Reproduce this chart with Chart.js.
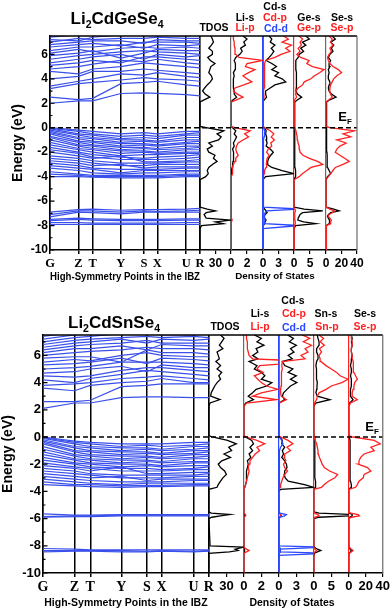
<!DOCTYPE html>
<html>
<head>
<meta charset="utf-8">
<script src="https://cdn.jsdelivr.net/npm/chart.js@4.4.0/dist/chart.umd.min.js"></script>
<style>
  body { margin: 0; background: #fff; width: 392px; height: 610px; position: relative; overflow: hidden;
         font-family: "Liberation Sans", Arial, sans-serif; }
  canvas { position: absolute; left: 0; }
  .t { position: absolute; white-space: nowrap; font-weight: bold; line-height: 1; transform: translate(-50%, -50%); z-index: 2; }
  .sb { font-size: .62em; position: relative; top: .35em; }
  .k { color: #000; } .r { color: #ff2020; } .b { color: #2a48ff; }
  .ttl { font-size: 17px; }
  .lg { font-size: 10.5px; }
</style>
</head>
<body>
<canvas id="cGe" width="392" height="290" style="top:0"></canvas>
<canvas id="cSn" width="392" height="310" style="top:300px"></canvas>

<div class="t ttl" style="left:117px;top:18px">Li<span class="sb">2</span>CdGeSe<span class="sb">4</span></div>
<div class="t lg k" style="left:214px;top:27px">TDOS</div>
<div class="t lg k" style="left:245px;top:17px">Li-s</div>
<div class="t lg r" style="left:245px;top:27px">Li-p</div>
<div class="t lg k" style="left:275px;top:6px">Cd-s</div>
<div class="t lg r" style="left:275px;top:17px">Cd-p</div>
<div class="t lg b" style="left:276px;top:28px">Cd-d</div>
<div class="t lg k" style="left:309px;top:17px">Ge-s</div>
<div class="t lg r" style="left:309px;top:27px">Ge-p</div>
<div class="t lg k" style="left:342px;top:17px">Se-s</div>
<div class="t lg r" style="left:342px;top:27px">Se-p</div>
<div class="t" style="left:345px;top:117px;font-size:13px">E<span class="sb">F</span></div>
<div class="t" style="left:275px;top:276px;font-size:9.8px">Density of States</div>

<div class="t ttl" style="left:114px;top:322px">Li<span class="sb">2</span>CdSnSe<span class="sb">4</span></div>
<div class="t lg k" style="left:225px;top:326px">TDOS</div>
<div class="t lg k" style="left:260px;top:313px">Li-s</div>
<div class="t lg r" style="left:260px;top:326px">Li-p</div>
<div class="t lg k" style="left:293px;top:300px">Cd-s</div>
<div class="t lg r" style="left:294px;top:313px">Cd-p</div>
<div class="t lg b" style="left:294px;top:327px">Cd-d</div>
<div class="t lg k" style="left:326px;top:313px">Sn-s</div>
<div class="t lg r" style="left:327px;top:326px">Sn-p</div>
<div class="t lg k" style="left:365px;top:313px">Se-s</div>
<div class="t lg r" style="left:365px;top:326px">Se-p</div>
<div class="t" style="left:372px;top:427px;font-size:13px">E<span class="sb">F</span></div>
<div class="t" style="left:292px;top:602px;font-size:10.5px">Density of States</div>

<script>
// k-path of the band plots
const kPath = [0, 0.19, 0.285, 0.472, 0.627, 0.715, 0.908, 1];
const kLabels = ['G', 'Z', 'T', 'Y', 'S', 'X', 'U', 'R'];
const energyTicks = [-10, -9, -8, -7, -6, -5, -4, -3, -2, -1, 0, 1, 2, 3, 4, 5, 6, 7];

// ---- Li2CdGeSe4 bands (values at G Z T Y S X U R, eV)
const condGe = [
  [2.0, 2.2, 2.2, 2.8, 2.85, 2.8, 2.7, 2.6],
  [2.5, 2.3, 2.4, 3.6, 3.7, 3.8, 3.5, 3.4],
  [3.2, 3.6, 3.7, 3.9, 4.1, 4.0, 3.9, 3.8],
  [3.4, 3.8, 4.0, 4.4, 4.3, 4.5, 4.2, 4.1],
  [4.0, 4.2, 4.6, 4.6, 4.8, 4.7, 4.5, 4.4],
  [4.6, 4.4, 4.8, 5.0, 5.3, 5.2, 5.0, 4.9],
  [4.8, 5.0, 5.2, 5.5, 5.4, 5.6, 5.3, 5.2],
  [5.1, 5.3, 5.5, 5.3, 5.8, 5.8, 5.6, 5.5],
  [5.3, 5.6, 5.8, 6.0, 5.6, 6.0, 5.8, 5.9],
  [5.6, 5.9, 6.0, 6.2, 6.3, 6.2, 6.1, 6.0],
  [5.9, 6.1, 6.3, 5.7, 6.1, 6.4, 6.3, 6.3],
  [6.1, 6.4, 6.2, 6.5, 6.6, 6.5, 6.6, 6.5],
  [6.3, 6.6, 6.6, 6.8, 6.5, 6.8, 6.7, 6.8],
  [6.6, 6.8, 6.9, 6.7, 7.0, 7.0, 7.0, 6.9],
  [6.8, 7.0, 7.1, 7.1, 6.9, 7.2, 7.1, 7.1],
  [7.0, 7.3, 7.2, 7.3, 7.3, 7.4, 7.3, 7.3],
  [7.2, 7.1, 7.4, 7.6, 7.6, 7.6, 7.5, 7.6],
  [7.4, 7.6, 7.6, 7.8, 7.8, 7.8, 7.7, 7.8]
];
const valGe = [
  [0.0, -0.2, -0.3, -0.5, -0.4, -0.5, -0.3, -0.3],
  [-0.05, -0.3, -0.5, -0.7, -0.6, -0.7, -0.5, -0.4],
  [-0.1, -0.5, -0.6, -0.9, -0.8, -0.9, -0.6, -0.6],
  [-0.2, -0.6, -0.8, -1.0, -1.0, -1.1, -0.8, -0.8],
  [-0.3, -0.8, -0.9, -1.2, -1.1, -1.2, -1.0, -1.0],
  [-0.4, -0.9, -1.1, -1.3, -1.3, -1.4, -1.2, -1.1],
  [-0.5, -1.1, -1.2, -1.5, -1.4, -1.5, -1.3, -1.3],
  [-0.7, -1.2, -1.4, -1.6, -1.6, -1.7, -1.5, -1.5],
  [-0.8, -1.4, -1.5, -1.8, -1.7, -1.8, -1.7, -1.6],
  [-1.0, -1.5, -1.7, -1.9, -1.9, -2.0, -1.8, -1.8],
  [-1.2, -1.7, -1.8, -2.1, -2.0, -2.1, -2.0, -2.0],
  [-1.4, -1.8, -2.0, -2.3, -2.2, -2.2, -2.1, -2.1],
  [-1.6, -2.0, -2.2, -2.4, -2.5, -2.4, -2.3, -2.2],
  [-1.8, -2.1, -2.4, -2.6, -2.6, -2.6, -2.5, -2.4],
  [-2.0, -2.3, -2.5, -2.3, -2.8, -2.8, -2.7, -2.6],
  [-2.3, -2.5, -2.7, -2.9, -2.9, -2.9, -2.8, -2.8],
  [-2.5, -2.7, -2.9, -3.1, -3.1, -3.0, -3.0, -3.0],
  [-2.7, -2.9, -3.1, -3.0, -3.3, -3.2, -3.2, -3.2],
  [-2.9, -3.1, -3.3, -3.4, -3.4, -3.4, -3.3, -3.3],
  [-3.1, -3.3, -3.4, -3.7, -3.5, -3.5, -3.5, -3.5],
  [-3.3, -3.5, -3.7, -3.8, -3.7, -3.7, -3.6, -3.6],
  [-3.6, -3.8, -3.9, -3.9, -3.9, -3.9, -3.8, -3.8],
  [-3.8, -3.9, -4.0, -4.0, -4.0, -4.0, -3.9, -3.9],
  [-4.0, -4.0, -4.05, -4.1, -4.1, -4.1, -4.0, -4.0]
];
const coreGe = [
  [-6.9, -6.7, -6.65, -6.75, -6.7, -6.7, -6.65, -6.6],
  [-7.1, -6.8, -6.8, -6.9, -6.8, -6.85, -6.8, -6.75],
  [-7.3, -6.9, -6.95, -7.05, -6.9, -6.9, -6.9, -6.9],
  [-7.5, -7.4, -7.45, -7.5, -7.5, -7.5, -7.45, -7.45],
  [-7.6, -7.5, -7.55, -7.6, -7.6, -7.6, -7.55, -7.55],
  [-7.75, -7.75, -7.8, -7.8, -7.8, -7.8, -7.75, -7.75],
  [-7.9, -7.9, -7.9, -7.9, -7.9, -7.9, -7.9, -7.9]
];

// ---- Li2CdGeSe4 DOS (energy grid, states/eV)
const energyGe = [-10, -8.25, -8.0, -7.85, -7.7, -7.55, -7.4, -7.25, -7.1, -6.95, -6.8, -6.65, -6.5,
  -4.5, -4.25, -4.0, -3.75, -3.5, -3.25, -3.0, -2.75, -2.5, -2.25, -2.0, -1.75, -1.5, -1.25, -1.0, -0.75, -0.5, -0.25, 0, 0.1,
  1.9, 2.1, 2.25, 2.5, 2.75, 3.0, 3.25, 3.5, 3.75, 4.0, 4.25, 4.5, 4.75, 5.0, 5.25, 5.5, 5.75, 6.0, 6.25, 6.5, 6.75, 7.0, 7.25, 7.5];
const tdosGe = [0, 0, 3, 45, 30, 60, 12, 10, 8, 12, 30, 14, 0,
  0, 0, 11, 16, 14, 17, 24, 33, 26, 29, 17, 14, 24, 17, 36, 41, 33, 46, 12, 0,
  0, 0, 7, 19, 10, 5, 9, 14, 20, 24, 22, 17, 19, 21, 29, 20, 15, 24, 24, 17, 22, 26, 24, 21];
const liSGe = [0, 0, 0, 0.05, 0.05, 0.05, 0.05, 0.05, 0.05, 0.05, 0.05, 0.05, 0,
  0, 0, 0.1, 0.1, 0.1, 0.15, 0.2, 0.25, 0.3, 0.35, 0.3, 0.2, 0.4, 0.3, 0.5, 0.7, 0.4, 0.6, 0.2, 0,
  0, 0, 0.2, 0.7, 0.4, 0.4, 0.3, 0.3, 0.3, 0.3, 0.4, 0.3, 0.5, 0.5, 0.6, 0.4, 0.6, 1.1, 1.4, 1.2, 1.8, 1.6, 2.0, 1.5];
const liPGe = [0, 0, 0, 0.1, 0.05, 0.15, 0.05, 0.02, 0.02, 0.03, 0.1, 0.05, 0,
  0, 0, 0.1, 0.2, 0.2, 0.2, 0.3, 0.5, 0.6, 0.9, 0.7, 0.6, 0.7, 0.9, 1.5, 2.2, 1.7, 2.4, 0.5, 0,
  0, 0, 0.6, 1.5, 0.8, 0.3, 0.5, 1.6, 2.6, 2.0, 1.5, 2.2, 3.0, 1.8, 2.0, 3.95, 1.0, 0.6, 0.5, 0.5, 0.4, 0.4, 0.3, 0.3];
const cdSGe = [0, 0, 0.1, 0.3, 0.4, 0.6, 0.3, 0.2, 0.4, 0.8, 0.6, 0.3, 0,
  0, 0, 0.5, 6.0, 3.7, 1.7, 0.8, 0.9, 1.1, 1.5, 2.0, 1.4, 0.6, 0.8, 0.6, 0.7, 0.5, 0.6, 0.3, 0,
  0, 0, 0.2, 0.7, 0.5, 0.5, 1.4, 2.3, 4.4, 3.7, 2.3, 3.0, 1.7, 2.6, 1.7, 0.6, 1.2, 1.7, 2.1, 1.6, 2.3, 1.4, 1.7, 1.2];
const cdPGe = [0, 0, 0.05, 0.05, 0.05, 0.1, 0.05, 0.05, 0.05, 0.1, 0.05, 0.05, 0,
  0, 0, 0.1, 0.2, 0.3, 0.6, 0.7, 0.7, 0.8, 1.2, 0.7, 1.0, 1.7, 1.5, 2.2, 1.6, 2.1, 1.4, 0.3, 0,
  0, 0, 0.1, 0.2, 0.15, 0.1, 0.2, 0.2, 0.3, 0.3, 0.3, 0.35, 0.3, 0.35, 0.35, 0.5, 2.3, 3.5, 5.2, 4.4, 5.5, 3.7, 4.9, 4.0];
const cdDGe = [0, 0, 7, 0.3, 0.3, 0.4, 0.3, 0.3, 0.3, 0.4, 0.6, 7, 0,
  0, 0, 0.05, 0.1, 0.1, 0.1, 0.1, 0.1, 0.1, 0.1, 0.1, 0.1, 0.1, 0.1, 0.1, 0.2, 0.3, 0.35, 0.1, 0,
  0, 0, 0.05, 0.05, 0.05, 0.05, 0.05, 0.05, 0.05, 0.05, 0.05, 0.05, 0.05, 0.05, 0.05, 0.05, 0.05, 0.05, 0.05, 0.05, 0.05, 0.05, 0.05, 0.05];
const geSGe = [0, 0, 0.5, 6.8, 3.0, 1.2, 1.3, 1.6, 1.9, 2.7, 9.0, 3.2, 0,
  0, 0, 0.5, 0.6, 0.4, 0.3, 0.3, 0.3, 0.3, 0.3, 0.3, 0.3, 0.3, 0.3, 0.3, 0.3, 0.3, 0.3, 0.1, 0,
  0, 0, 0.9, 2.4, 1.1, 0.6, 0.7, 0.8, 0.8, 0.8, 0.7, 0.7, 0.6, 0.6, 0.5, 0.6, 1.3, 1.6, 3.0, 2.1, 3.7, 2.6, 4.8, 3.7];
const gePGe = [0, 0, 0.1, 0.4, 0.4, 0.3, 0.2, 0.2, 0.2, 0.3, 0.5, 0.3, 0,
  0, 0, 1.6, 2.7, 4.0, 5.3, 9.0, 7.4, 4.8, 2.8, 1.9, 1.7, 1.6, 1.3, 1.1, 1.0, 0.8, 0.6, 0.2, 0,
  0, 0, 0.3, 0.8, 0.5, 0.6, 1.3, 2.7, 3.2, 5.3, 6.4, 8.0, 9.4, 5.8, 4.0, 4.7, 2.1, 0.9, 1.9, 1.3, 2.3, 1.9, 2.7, 1.6];
const seSGe = [0, 0, 1, 4, 5, 4, 3, 2, 3, 6, 17, 10, 0,
  0, 0, 2, 6, 4, 2, 1.5, 1.5, 1.5, 1.5, 1.2, 1.2, 1.2, 1.2, 1.2, 1, 1, 1, 0.5, 0,
  0, 0, 4, 13, 7, 4, 3, 4, 5, 3, 3, 4, 3, 5, 4, 6, 3, 5, 9, 7, 10, 6, 12, 8];
const sePGe = [0, 0, 1, 6, 6, 7, 5, 3, 4, 8, 11, 5, 0,
  0, 0, 3, 6, 9, 12, 22, 30, 24, 18, 12, 14, 18, 26, 14, 32, 22, 37, 5, 0,
  0, 0, 3, 8, 6, 4, 5, 6, 8, 10, 14, 20, 16, 9, 5, 3, 2, 4, 7, 5, 9, 6, 8, 4];

// ---- Li2CdSnSe4 bands
const condSn = [
  [2.1, 2.5, 2.5, 2.9, 2.95, 2.95, 2.9, 2.9],
  [2.6, 2.6, 2.7, 3.7, 3.8, 3.9, 3.9, 3.9],
  [3.6, 3.4, 3.8, 4.0, 4.1, 4.3, 4.0, 4.0],
  [3.8, 3.9, 4.0, 4.3, 4.4, 4.5, 4.3, 4.2],
  [4.2, 4.0, 4.3, 4.6, 4.9, 4.8, 4.6, 4.5],
  [4.5, 4.4, 4.5, 4.9, 5.1, 5.1, 4.9, 4.8],
  [4.7, 4.8, 5.0, 5.2, 4.8, 5.3, 5.1, 5.1],
  [5.0, 5.1, 5.2, 5.5, 5.5, 5.5, 5.4, 5.3],
  [5.3, 5.4, 5.5, 5.8, 5.4, 5.8, 5.7, 5.6],
  [5.5, 5.7, 5.6, 6.0, 6.2, 6.0, 5.9, 5.9],
  [5.8, 5.9, 5.9, 5.5, 6.4, 6.2, 6.2, 6.1],
  [6.0, 6.2, 6.3, 6.4, 6.6, 6.5, 6.5, 6.4],
  [6.2, 6.5, 6.5, 6.7, 6.4, 6.8, 6.7, 6.7],
  [6.4, 6.7, 6.8, 6.9, 7.1, 6.9, 6.9, 6.9],
  [6.6, 6.9, 7.0, 7.2, 6.9, 7.2, 7.1, 7.2],
  [6.8, 7.1, 7.2, 7.3, 7.4, 7.3, 7.4, 7.3],
  [7.0, 7.3, 7.4, 7.6, 7.6, 7.5, 7.5, 7.6],
  [7.2, 7.5, 7.6, 7.7, 7.8, 7.8, 7.7, 7.8],
  [7.4, 7.7, 7.7, 7.8, 7.9, 7.9, 7.8, 7.9]
];
const valSn = [
  [0.0, -0.3, -0.4, -0.5, -0.5, -0.5, -0.4, -0.4],
  [-0.05, -0.4, -0.5, -0.7, -0.6, -0.7, -0.6, -0.5],
  [-0.1, -0.5, -0.7, -0.8, -0.8, -0.9, -0.7, -0.7],
  [-0.2, -0.7, -0.8, -1.0, -0.9, -1.0, -0.9, -0.8],
  [-0.3, -0.8, -1.0, -1.1, -1.1, -1.2, -1.0, -1.0],
  [-0.4, -1.0, -1.1, -1.3, -1.2, -1.3, -1.2, -1.1],
  [-0.5, -1.1, -1.3, -1.4, -1.4, -1.5, -1.3, -1.3],
  [-0.7, -1.3, -1.4, -1.6, -1.5, -1.6, -1.5, -1.4],
  [-0.9, -1.4, -1.6, -1.7, -1.7, -1.8, -1.6, -1.6],
  [-1.1, -1.6, -1.7, -1.9, -1.8, -1.9, -1.8, -1.8],
  [-1.3, -1.7, -1.9, -2.0, -2.0, -2.1, -1.9, -1.9],
  [-1.5, -1.9, -2.0, -2.2, -2.1, -2.2, -2.1, -2.1],
  [-1.7, -2.0, -2.2, -2.3, -2.3, -2.4, -2.3, -2.2],
  [-1.9, -2.2, -2.3, -2.5, -2.5, -2.5, -2.4, -2.4],
  [-2.1, -2.3, -2.5, -2.2, -2.7, -2.7, -2.6, -2.6],
  [-2.3, -2.5, -2.7, -2.8, -2.8, -2.8, -2.8, -2.7],
  [-2.5, -2.7, -2.8, -3.0, -3.0, -3.0, -2.9, -2.9],
  [-2.7, -2.9, -3.0, -2.9, -3.2, -3.1, -3.1, -3.1],
  [-2.9, -3.1, -3.2, -3.3, -3.3, -3.3, -3.2, -3.2],
  [-3.1, -3.3, -3.4, -3.5, -3.4, -3.4, -3.4, -3.4],
  [-3.3, -3.5, -3.5, -3.6, -3.55, -3.55, -3.5, -3.5],
  [-3.5, -3.6, -3.65, -3.7, -3.65, -3.65, -3.6, -3.6]
];
const coreSn = [
  [-5.65, -5.75, -5.75, -5.7, -5.7, -5.7, -5.7, -5.7],
  [-5.85, -5.8, -5.8, -5.75, -5.75, -5.75, -5.75, -5.75],
  [-5.9, -5.85, -5.85, -5.8, -5.8, -5.8, -5.8, -5.8],
  [-8.2, -8.25, -8.3, -8.3, -8.3, -8.3, -8.3, -8.3],
  [-8.35, -8.35, -8.35, -8.35, -8.4, -8.35, -8.4, -8.35],
  [-8.45, -8.4, -8.4, -8.45, -8.45, -8.4, -8.45, -8.4]
];

// ---- Li2CdSnSe4 DOS
const energySn = [-10, -8.7, -8.55, -8.45, -8.35, -8.25, -8.1, -8.0, -6.0, -5.9, -5.8, -5.7, -5.6, -5.5,
  -4.0, -3.85, -3.7, -3.5, -3.25, -3.0, -2.75, -2.5, -2.25, -2.0, -1.75, -1.5, -1.25, -1.0, -0.75, -0.5, -0.25, 0, 0.1,
  2.0, 2.25, 2.5, 2.75, 3.0, 3.25, 3.5, 3.75, 4.0, 4.25, 4.5, 4.75, 5.0, 5.25, 5.55, 5.75, 6.0, 6.25, 6.5, 6.75, 7.0, 7.25, 7.5];
const tdosSn = [0, 0, 0, 35, 50, 45, 60, 2, 0, 5, 20, 36, 4, 0,
  0, 0, 14, 16, 20, 24, 30, 27, 20, 16, 22, 37, 26, 39, 34, 47, 32, 6, 0,
  0, 0, 2, 19, 3, 4, 7, 10, 14, 20, 17, 22, 14, 20, 12, 18, 16, 14, 24, 18, 22, 26, 20];
const liSSn = [0, 0, 0, 0.05, 0.1, 0.05, 0, 0, 0, 0, 0.05, 0.05, 0, 0,
  0, 0, 0.1, 0.2, 0.3, 0.3, 0.3, 0.3, 0.4, 0.5, 0.4, 0.8, 0.6, 1.0, 0.7, 1.1, 0.9, 0.2, 0,
  0, 0, 0.2, 1.1, 0.5, 1.0, 1.4, 2.6, 3.2, 2.0, 2.4, 2.0, 1.2, 1.5, 0.6, 1.6, 1.0, 1.6, 1.4, 2.3, 1.5, 2.0, 1.2];
const liPSn = [0, 0, 0, 0.3, 0.6, 0.3, 0, 0, 0, 0, 0.2, 0.2, 0, 0,
  0, 0, 0.1, 0.2, 0.3, 0.4, 0.5, 0.6, 0.5, 0.6, 0.7, 1.0, 1.3, 1.8, 1.5, 2.4, 1.5, 0.3, 0,
  0, 0, 0.3, 3.7, 1.0, 2.0, 3.9, 2.6, 2.0, 1.6, 1.2, 2.2, 1.5, 1.8, 7.8, 1.0, 0.6, 0.5, 0.4, 0.4, 0.4, 0.3, 0.3];
const cdSSn = [0, 0, 0.1, 0.2, 0.3, 0.2, 0.1, 0, 0, 0.1, 0.4, 0.3, 0.1, 0,
  0, 0.3, 6.0, 4.4, 1.6, 1.1, 0.9, 1.0, 1.4, 1.3, 1.0, 0.5, 0.8, 0.6, 1.0, 0.5, 0.6, 0.2, 0,
  0, 0, 0.1, 1.0, 0.6, 0.8, 1.4, 2.0, 3.1, 2.0, 3.0, 1.6, 2.4, 1.0, 0.6, 2.3, 1.6, 2.6, 2.0, 3.0, 1.8, 2.5, 1.5];
const cdPSn = [0, 0, 0.05, 0.1, 0.1, 0.1, 0.05, 0, 0, 0.05, 0.3, 0.3, 0.05, 0,
  0, 0, 0.2, 0.3, 0.5, 0.7, 1.0, 1.5, 1.0, 0.8, 1.2, 0.9, 1.0, 2.0, 1.4, 2.4, 1.6, 0.3, 0,
  0, 0, 0.1, 1.3, 0.4, 0.3, 0.3, 0.4, 0.5, 0.4, 0.4, 0.5, 0.6, 0.5, 0.6, 4.5, 3.8, 5.0, 4.5, 5.6, 4.2, 5.3, 4.0];
const cdDSn = [0, 0, 8, 0.3, 0.2, 0.3, 8, 0, 0, 0.2, 1.0, 1.3, 0.2, 0,
  0, 0, 0.1, 0.1, 0.1, 0.1, 0.1, 0.1, 0.1, 0.1, 0.1, 0.1, 0.1, 0.1, 0.3, 0.7, 0.5, 0.1, 0,
  0, 0, 0.05, 0.05, 0.05, 0.05, 0.05, 0.05, 0.05, 0.05, 0.05, 0.05, 0.05, 0.05, 0.05, 0.05, 0.05, 0.05, 0.05, 0.05, 0.05, 0.05, 0.05];
const snSSn = [0, 0, 0.2, 1.0, 2.0, 1.0, 0.2, 0, 0, 1.5, 10.5, 10.5, 1.5, 0,
  0, 0, 0.4, 0.6, 0.4, 0.3, 0.3, 0.3, 0.3, 0.3, 0.3, 0.3, 0.3, 0.3, 0.3, 0.3, 0.3, 0.1, 0,
  0, 0, 0.5, 4.6, 1.0, 0.6, 0.8, 0.9, 1.0, 0.8, 0.7, 0.8, 0.8, 0.6, 0.8, 1.2, 1.2, 0.8, 0.8, 1.5, 1.5, 1.2, 1.0];
const snPSn = [0, 0, 0, 0.3, 0.8, 0.3, 0, 0, 0, 0.3, 1.5, 1.2, 0.2, 0,
  0, 0, 2.2, 3.0, 4.2, 6.0, 6.8, 4.5, 3.0, 2.4, 2.0, 1.6, 1.3, 1.2, 1.0, 0.8, 0.4, 0.1, 0,
  0, 0, 0.2, 0.8, 1.0, 1.5, 3.5, 5.0, 8.0, 9.8, 7.5, 6.5, 5.0, 3.5, 2.0, 1.8, 1.5, 2.2, 1.6, 3.0, 1.8, 2.8, 1.5];
const seSSn = [0, 0, 0.5, 2, 3, 1.5, 0.5, 0, 0, 1, 4, 4, 1, 0,
  0, 0, 3, 3, 2, 1.5, 1.5, 1.5, 1.5, 1.5, 1.5, 1.5, 1.5, 1.5, 1.5, 1.5, 1.5, 0.5, 0,
  0, 0, 1, 5, 2, 2, 2, 3, 3, 3, 2, 3, 3, 2, 3, 3, 4, 3, 3, 4, 3, 4, 3];
const sePSn = [0, 0, 0.5, 3, 5, 3, 0.5, 0, 0, 3, 12.5, 11, 2, 0,
  0, 0, 8, 10, 12, 17, 18, 26, 22, 11, 12, 14, 18, 30, 26, 37, 30, 5, 0,
  0, 0, 2, 10, 4, 4, 5, 6, 7, 10, 8, 6, 6, 5, 5, 4, 4, 3, 3, 4, 4, 3, 3];

const BLACK = '#000', RED = '#ff2020', BLUE = '#2a48ff', BAND = '#3a50ea', GREY = '#6a6a6a';

Chart.defaults.font.family = '"Liberation Sans", Arial, sans-serif';
Chart.defaults.color = '#000';

// clip each DOS curve to its own panel
const panelClip = {
  id: 'panelClip',
  beforeDatasetDraw(chart, args) {
    if (chart.data.datasets[args.index].noClip) return;
    const xs = args.meta.xScale, a = chart.chartArea, ctx = chart.ctx;
    ctx.save();
    ctx.beginPath();
    ctx.rect(xs.left, a.top, xs.right - xs.left, a.bottom - a.top);
    ctx.clip();
  },
  afterDatasetDraw(chart, args) {
    if (chart.data.datasets[args.index].noClip) return;
    chart.ctx.restore();
  }
};

// frame, Fermi level, inner ticks of the energy axis
const frame = {
  id: 'frame',
  afterDatasetsDraw(chart) {
    const {ctx, chartArea: a, scales} = chart;
    const y0 = scales.y.getPixelForValue(0);
    ctx.save();
    ctx.strokeStyle = '#000';
    ctx.lineWidth = 1.5;
    ctx.setLineDash([5, 3]);
    ctx.beginPath(); ctx.moveTo(a.left, y0); ctx.lineTo(a.right, y0); ctx.stroke();
    ctx.setLineDash([]);
    ctx.beginPath(); ctx.moveTo(a.left, a.top); ctx.lineTo(a.right, a.top); ctx.stroke();
    ctx.strokeStyle = GREY; ctx.lineWidth = 1.2;
    ctx.beginPath(); ctx.moveTo(a.right, a.top); ctx.lineTo(a.right, a.bottom); ctx.stroke();
    ctx.strokeStyle = '#000'; ctx.lineWidth = 1.2;
    ctx.beginPath();
    energyTicks.forEach(v => {
      const py = scales.y.getPixelForValue(v);
      ctx.moveTo(a.left, py); ctx.lineTo(a.left + (v % 2 ? 2.5 : 4.5), py);
    });
    ctx.stroke();
    ctx.restore();
  }
};

function bandSets(groups) {
  const out = [];
  groups.forEach(g => g.forEach(b => out.push({
    xAxisID: 'band', yAxisID: 'y', showLine: true, pointRadius: 0,
    borderColor: BAND, borderWidth: 1.2,
    data: kPath.map((k, i) => ({x: k, y: b[i]}))
  })));
  return out;
}

function build(id, o) {
  const datasets = [];
  const scales = {
    y: {
      type: 'linear', axis: 'y', position: 'left', min: -10, max: 7.5,
      afterBuildTicks: s => { s.ticks = energyTicks.map(v => ({value: v})); },
      afterFit: s => { s.width = o.yW; },
      ticks: { autoSkip: false, padding: 2, font: {size: o.fs, weight: 'bold'},
               callback: v => v % 2 === 0 ? v : '' },
      grid: { drawOnChartArea: false, drawTicks: false },
      border: { color: '#000', width: 1.5 },
      title: { display: true, text: 'Energy (eV)', font: {size: 14, weight: 'bold'},
               padding: {top: o.yTitlePad, bottom: 0} }
    },
    band: {
      type: 'linear', axis: 'x', position: 'bottom', stack: 'panels', stackWeight: o.bandW,
      min: 0, max: 1, z: 1,
      afterBuildTicks: s => { s.ticks = kPath.map(v => ({value: v})); },
      afterFit: s => { s.height = o.axisH; },
      ticks: { autoSkip: false, maxRotation: 0, padding: 2,
               font: {family: '"Liberation Serif", "Times New Roman", serif', size: o.kfs, weight: 'bold'},
               callback: (v, i) => kLabels[i] },
      grid: { color: '#000', lineWidth: 1.5, tickLength: 4, tickColor: '#000' },
      border: { color: '#000', width: 1.5 },
      title: { display: true, text: 'High-Symmetry Points in the IBZ',
               font: {size: o.tfs, weight: 'bold'}, padding: {top: 0, bottom: 1} }
    }
  };
  o.panels.forEach(p => {
    scales[p.id] = {
      type: 'linear', axis: 'x', position: 'bottom', stack: 'panels', stackWeight: p.w,
      min: 0, max: p.max,
      afterBuildTicks: s => { s.ticks = p.ticks.map(v => ({value: v})); },
      afterFit: s => { s.height = o.axisH; },
      ticks: { autoSkip: false, maxRotation: 0, padding: 2, font: {size: o.fs, weight: 'bold'},
               callback: v => (p.hideZero && v === 0) ? '' : v },
      grid: { color: c => (c.tick && c.tick.value === 0) ? p.edge : 'rgba(0,0,0,0)',
              lineWidth: 1.2, tickLength: 4, tickColor: '#000' },
      border: { color: '#000', width: 1.5 }
    };
    p.curves.forEach(c => datasets.push({
      xAxisID: p.id, yAxisID: 'y', showLine: true, pointRadius: 0,
      borderColor: c.color, borderWidth: 1.3, noClip: !!c.noClip,
      data: o.energy.map((e, i) => ({x: c.values[i], y: e}))
    }));
  });
  bandSets(o.bands).forEach(d => datasets.push(d));

  new Chart(document.getElementById(id), {
    type: 'scatter',
    data: { datasets },
    options: {
      responsive: false, animation: false, events: [],
      layout: { padding: o.pad },
      plugins: { legend: {display: false}, tooltip: {enabled: false}, title: {display: false} },
      scales
    },
    plugins: [panelClip, frame]
  });
}

build('cGe', {
  energy: energyGe, bands: [condGe, valGe, coreGe],
  pad: {top: 36, left: 0, right: 35, bottom: 6}, yW: 50, axisH: 34, yTitlePad: 10,
  bandW: 150, fs: 12, kfs: 12.5, tfs: 10,
  panels: [
    {id: 'tdos', w: 31, max: 60, ticks: [0, 30], edge: BLACK, hideZero: true,
     curves: [{values: tdosGe, color: BLACK}]},
    {id: 'li', w: 32, max: 4, ticks: [0, 2], edge: GREY,
     curves: [{values: liPGe, color: RED}, {values: liSGe, color: BLACK}]},
    {id: 'cd', w: 31, max: 6, ticks: [0, 3], edge: BLUE,
     curves: [{values: cdDGe, color: BLUE}, {values: cdPGe, color: RED}, {values: cdSGe, color: BLACK}]},
    {id: 'ge', w: 32, max: 10, ticks: [0, 5], edge: RED,
     curves: [{values: gePGe, color: RED}, {values: geSGe, color: BLACK}]},
    {id: 'se', w: 31, max: 40, ticks: [0, 20, 40], edge: GREY,
     curves: [{values: sePGe, color: RED}, {values: seSGe, color: BLACK}]}
  ]
});

build('cSn', {
  energy: energySn, bands: [condSn, valSn, coreSn],
  pad: {top: 35, left: 0, right: 9, bottom: 0}, yW: 43, axisH: 37, yTitlePad: 0,
  bandW: 166, fs: 13, kfs: 14, tfs: 10.5,
  panels: [
    {id: 'tdos', w: 35, max: 60, ticks: [0, 30], edge: BLACK, hideZero: true,
     curves: [{values: tdosSn, color: BLACK}]},
    {id: 'li', w: 35, max: 4, ticks: [0, 2], edge: GREY,
     curves: [{values: liPSn, color: RED, noClip: true}, {values: liSSn, color: BLACK}]},
    {id: 'cd', w: 35, max: 6, ticks: [0, 3], edge: BLUE,
     curves: [{values: cdDSn, color: BLUE}, {values: cdPSn, color: RED}, {values: cdSSn, color: BLACK}]},
    {id: 'sn', w: 35, max: 10, ticks: [0, 5], edge: RED,
     curves: [{values: snPSn, color: RED}, {values: snSSn, color: BLACK}]},
    {id: 'se', w: 34, max: 40, ticks: [0, 20, 40], edge: RED,
     curves: [{values: sePSn, color: RED}, {values: seSSn, color: BLACK}]}
  ]
});
</script>
</body>
</html>
